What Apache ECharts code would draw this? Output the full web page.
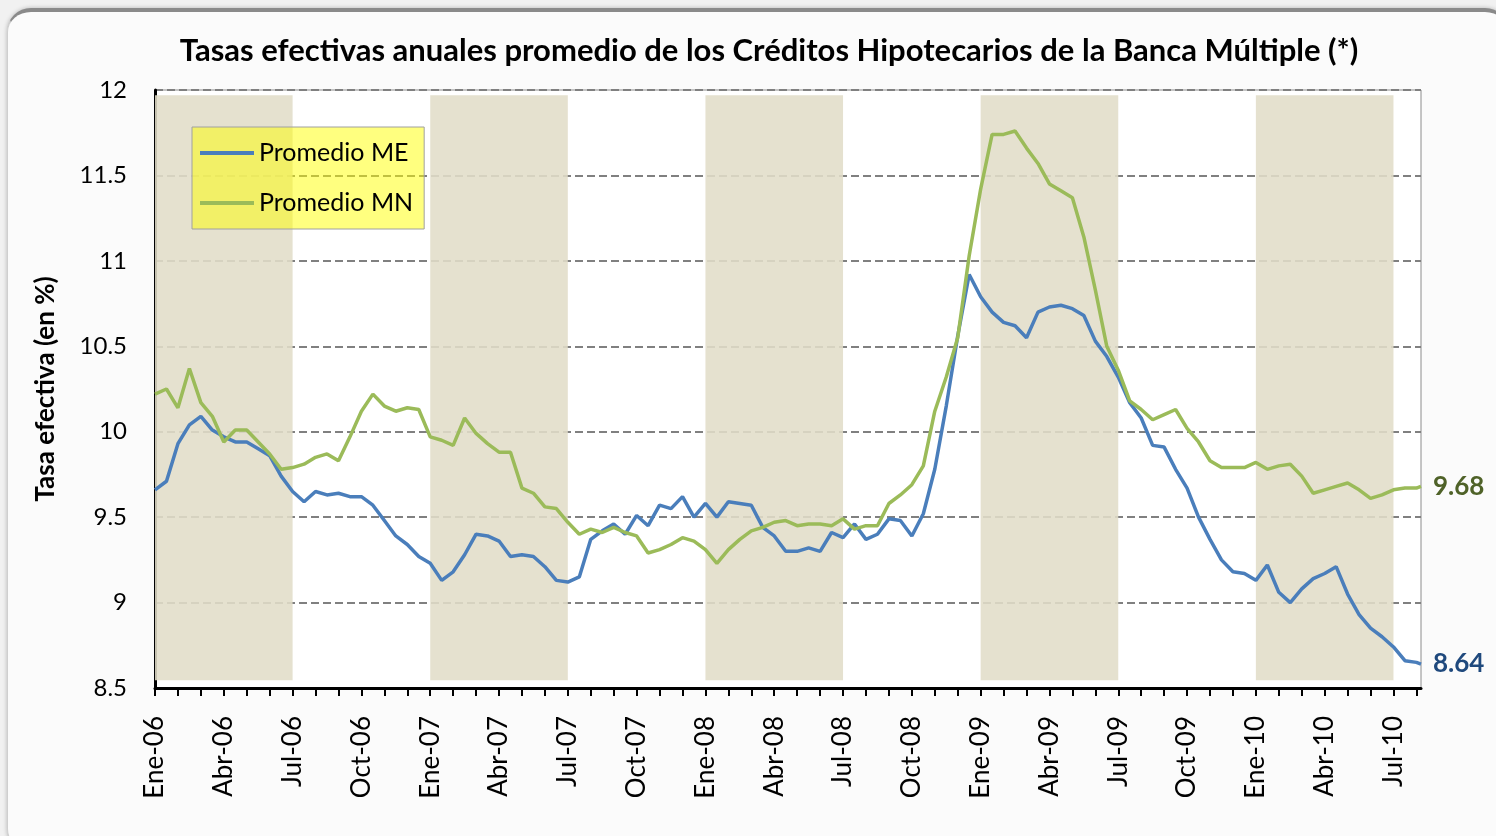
<!DOCTYPE html>
<html>
<head>
<meta charset="utf-8">
<script src="https://cdn.jsdelivr.net/npm/echarts@6/dist/echarts.min.js"></script>
<style>
  html, body { margin: 0; padding: 0; background: #f1f1f1; }
  #frame { position: absolute; left: 7px; top: 8px; width: 1500px; height: 840px;
           border-radius: 24px; background: #fbfbfb; border: 1px solid #cfcfcf;
           border-top: 4px solid #8a8a8a; box-shadow: 0 0 4px rgba(0,0,0,0.25); }
  #chart { position: absolute; left: 0; top: 0; width: 1496px; height: 836px; }
</style>
</head>
<body>
<div id="frame"></div>
<div id="chart"></div>
<script>
// Tick labels (one every 3 months, starting Jan 2006)
const tickLabels = ['Ene-06','Abr-06','Jul-06','Oct-06','Ene-07','Abr-07','Jul-07','Oct-07',
  'Ene-08','Abr-08','Jul-08','Oct-08','Ene-09','Abr-09','Jul-09','Oct-09','Ene-10','Abr-10','Jul-10'];

// Shaded periods, in months since Jan 2006
const shadedPeriods = [[0, 6], [12, 18], [24, 30], [36, 42], [48, 54]];

// Values sampled every half month from Jan 2006; last value is the final observation
const promedioME = [
  9.66, 9.71, 9.93, 10.04, 10.09, 10.01, 9.97, 9.94, 9.94, 9.90,
  9.86, 9.74, 9.65, 9.59, 9.65, 9.63, 9.64, 9.62, 9.62, 9.57,
  9.48, 9.39, 9.34, 9.27, 9.23, 9.13, 9.18, 9.28, 9.40, 9.39,
  9.36, 9.27, 9.28, 9.27, 9.21, 9.13, 9.12, 9.15, 9.37, 9.42,
  9.46, 9.40, 9.51, 9.45, 9.57, 9.55, 9.62, 9.50, 9.58, 9.50,
  9.59, 9.58, 9.57, 9.44, 9.39, 9.30, 9.30, 9.32, 9.30, 9.41,
  9.38, 9.46, 9.37, 9.40, 9.49, 9.48, 9.39, 9.52, 9.78, 10.15,
  10.56, 10.92, 10.79, 10.70, 10.64, 10.62, 10.55, 10.70, 10.73, 10.74,
  10.72, 10.68, 10.53, 10.44, 10.32, 10.17, 10.08, 9.92, 9.91, 9.78,
  9.67, 9.50, 9.37, 9.25, 9.18, 9.17, 9.13, 9.22, 9.06, 9.00,
  9.08, 9.14, 9.17, 9.21, 9.05, 8.93, 8.85, 8.80, 8.74, 8.66,
  8.65, 8.64
];
const promedioMN = [
  10.22, 10.25, 10.14, 10.37, 10.17, 10.09, 9.94, 10.01, 10.01, 9.94,
  9.87, 9.78, 9.79, 9.81, 9.85, 9.87, 9.83, 9.97, 10.12, 10.22,
  10.15, 10.12, 10.14, 10.13, 9.97, 9.95, 9.92, 10.08, 9.99, 9.93,
  9.88, 9.88, 9.67, 9.64, 9.56, 9.55, 9.47, 9.40, 9.43, 9.41,
  9.44, 9.41, 9.39, 9.29, 9.31, 9.34, 9.38, 9.36, 9.31, 9.23,
  9.31, 9.37, 9.42, 9.44, 9.47, 9.48, 9.45, 9.46, 9.46, 9.45,
  9.49, 9.43, 9.45, 9.45, 9.58, 9.63, 9.69, 9.80, 10.12, 10.32,
  10.55, 11.03, 11.42, 11.74, 11.74, 11.76, 11.66, 11.57, 11.45, 11.41,
  11.37, 11.14, 10.83, 10.50, 10.36, 10.18, 10.13, 10.07, 10.10, 10.13,
  10.02, 9.94, 9.83, 9.79, 9.79, 9.79, 9.82, 9.78, 9.80, 9.81,
  9.74, 9.64, 9.66, 9.68, 9.70, 9.66, 9.61, 9.63, 9.66, 9.67,
  9.67, 9.68
];
const lastMonth = 55.2;

// sample positions (months since Jan 2006): half-month grid, final observation at lastMonth
const months = promedioME.map((_, i) => (i === promedioME.length - 1 ? lastMonth : i * 0.5));
const pairs = vals => vals.map((v, i) => [months[i], v]);

const FONT = 'Lato, "Open Sans", sans-serif';
const chart = echarts.init(document.getElementById('chart'), null, { renderer: 'canvas' });

chart.setOption({
  backgroundColor: 'transparent',
  animation: false,
  textStyle: { fontFamily: FONT },
  title: {
    text: 'Tasas efectivas anuales promedio de los Créditos Hipotecarios de la Banca Múltiple (*)',
    left: 764, textAlign: 'center', top: 30,
    textStyle: { fontFamily: FONT, fontSize: 31, fontWeight: 'bold', color: '#000' }
  },
  grid: { left: 155, right: 75, top: 90, bottom: 148, show: true, backgroundColor: '#ffffff',
          borderColor: '#8c8c8c', borderWidth: 1 },
  legend: {
    data: ['Promedio ME', 'Promedio MN'],
    orient: 'vertical', left: 192, top: 127,
    icon: 'rect', itemWidth: 54, itemHeight: 4, itemGap: 20,
    padding: [11, 11, 11, 8],
    backgroundColor: 'rgba(255,255,0,0.5)', borderColor: '#a0a0a0', borderWidth: 1,
    textStyle: { fontFamily: FONT, fontSize: 25, lineHeight: 30, color: '#000' }
  },
  xAxis: {
    type: 'value', min: 0, max: lastMonth, interval: 1,
    axisLine: { show: true, onZero: false, lineStyle: { color: '#000', width: 3 } },
    axisTick: { show: true, length: 8, lineStyle: { color: '#000', width: 2 } },
    splitLine: { show: false },
    axisLabel: {
      rotate: 90, margin: 28, fontSize: 26, color: '#000', fontFamily: FONT,
      showMaxLabel: false,
      formatter: v => (Number.isInteger(v) && v % 3 === 0 && tickLabels[v / 3]) ? tickLabels[v / 3] : ''
    }
  },
  yAxis: {
    type: 'value', min: 8.5, max: 12, interval: 0.5,
    name: 'Tasa efectiva (en %)', nameLocation: 'middle', nameGap: 96,
    nameTextStyle: { fontFamily: FONT, fontSize: 26, fontWeight: 'bold', color: '#000' },
    axisLine: { show: true, lineStyle: { color: '#000', width: 3 } },
    axisTick: { show: false },
    axisLabel: { fontSize: 24, color: '#000', margin: 28, fontFamily: FONT, formatter: v => String(v) },
    splitLine: { show: true, lineStyle: { color: '#808080', width: 2, type: [8, 4] } }
  },
  series: [
    {
      name: 'bands', type: 'line', data: [], silent: true, z: 1,
      markArea: {
        silent: true,
        itemStyle: { color: '#e1ddc8', opacity: 0.88 },
        data: shadedPeriods.map(p => [{ xAxis: p[0], yAxis: 8.545 }, { xAxis: p[1], yAxis: 11.97 }])
      }
    },
    {
      name: 'Promedio ME', type: 'line', data: pairs(promedioME), showSymbol: false, z: 3,
      color: '#4a7ebb', lineStyle: { width: 3.5, color: '#4a7ebb' },
      endLabel: { show: true, distance: 12, formatter: p => p.value[1].toFixed(2),
        fontFamily: FONT, fontSize: 26, fontWeight: 'bold', color: '#1f497d' }
    },
    {
      name: 'Promedio MN', type: 'line', data: pairs(promedioMN), showSymbol: false, z: 3,
      color: '#9bbb59', lineStyle: { width: 3.5, color: '#9bbb59' },
      endLabel: { show: true, distance: 12, formatter: p => p.value[1].toFixed(2),
        fontFamily: FONT, fontSize: 26, fontWeight: 'bold', color: '#4f6228' }
    }
  ]
});
</script>
</body>
</html>
